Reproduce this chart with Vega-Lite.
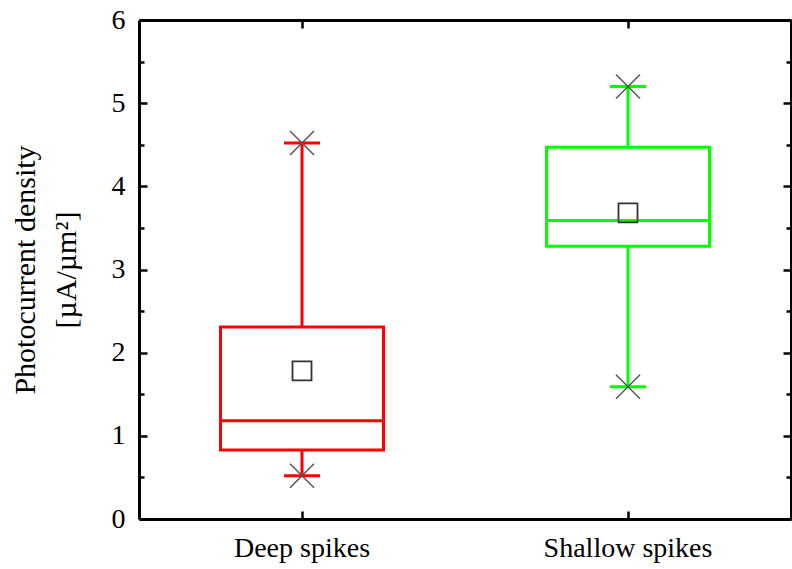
{
  "$schema": "https://vega.github.io/schema/vega-lite/v6.json",
  "width": 652,
  "height": 499,
  "autosize": {"type": "none"},
  "padding": {"left": 139, "top": 20, "right": 1, "bottom": 50},
  "background": "white",
  "config": {
    "view": {"stroke": null},
    "font": "Liberation Serif",
    "axis": {
      "domainColor": "black",
      "domainWidth": 3,
      "tickColor": "black",
      "tickWidth": 2.5,
      "labelFont": "Liberation Serif",
      "labelFontSize": 28,
      "labelColor": "black",
      "titleFont": "Liberation Serif",
      "titleFontWeight": "normal",
      "titleColor": "black",
      "grid": false
    }
  },
  "data": {
    "values": [
      {"group": "Deep spikes", "min": 0.52, "q1": 0.83, "median": 1.18, "q3": 2.31, "max": 4.52, "mean": 1.78},
      {"group": "Shallow spikes", "min": 1.59, "q1": 3.28, "median": 3.59, "q3": 4.47, "max": 5.2, "mean": 3.68}
    ]
  },
  "resolve": {"axis": {"x": "independent", "y": "independent"}},
  "layer": [
    {
      "mark": {"type": "rule", "strokeWidth": 3},
      "encoding": {
        "x": {"field": "group", "type": "nominal", "axis": null,
              "scale": {"paddingInner": 0.5, "paddingOuter": 0.25}},
        "y": {"field": "min", "type": "quantitative", "axis": null, "scale": {"domain": [0, 6], "nice": false}},
        "y2": {"field": "max"},
        "color": {"field": "group", "type": "nominal", "legend": null,
                  "scale": {"domain": ["Deep spikes", "Shallow spikes"], "range": ["#ff0000", "#00ff00"]}}
      }
    },
    {
      "mark": {"type": "bar", "fill": "white", "strokeWidth": 3},
      "encoding": {
        "x": {"field": "group", "type": "nominal",
              "axis": {"orient": "bottom", "title": null, "labelAngle": 0, "tickSize": -8, "labelPadding": 23}},
        "y": {"field": "q1", "type": "quantitative",
              "axis": {"orient": "left",
                       "values": [0, 0.5, 1, 1.5, 2, 2.5, 3, 3.5, 4, 4.5, 5, 5.5, 6],
                       "format": ".0f",
                       "labelExpr": "datum.value % 1 === 0 ? datum.label : ''",
                       "tickSize": {"condition": {"test": "datum.value % 1 === 0", "value": -8}, "value": -5},
                       "labelPadding": 22,
                       "title": ["Photocurrent density", "[µA/µm²]"],
                       "titleFontSize": 30,
                       "titlePadding": 30,
                       "titleLineHeight": 41}},
        "y2": {"field": "q3"},
        "stroke": {"field": "group", "type": "nominal", "legend": null,
                   "scale": {"domain": ["Deep spikes", "Shallow spikes"], "range": ["#ff0000", "#00ff00"]}}
      }
    },
    {
      "mark": {"type": "tick", "thickness": 3, "size": 164, "opacity": 1},
      "encoding": {
        "x": {"field": "group", "type": "nominal",
              "axis": {"orient": "top", "title": null, "labels": false, "tickSize": -8}},
        "y": {"field": "median", "type": "quantitative",
              "axis": {"orient": "right", "title": null, "labels": false,
                       "values": [0, 0.5, 1, 1.5, 2, 2.5, 3, 3.5, 4, 4.5, 5, 5.5, 6],
                       "tickSize": {"condition": {"test": "datum.value % 1 === 0", "value": -8}, "value": -5}}},
        "color": {"field": "group", "type": "nominal", "legend": null}
      }
    },
    {
      "transform": [{"fold": ["min", "max"], "as": ["stat", "value"]}],
      "mark": {"type": "tick", "thickness": 3, "size": 36, "opacity": 1},
      "encoding": {
        "x": {"field": "group", "type": "nominal", "axis": null},
        "y": {"field": "value", "type": "quantitative", "axis": null},
        "color": {"field": "group", "type": "nominal", "legend": null}
      }
    },
    {
      "transform": [{"fold": ["min", "max"], "as": ["stat", "value"]}],
      "mark": {"type": "point", "shape": "M-1,-1L1,1M-1,1L1,-1", "filled": false, "size": 576, "stroke": "#555555", "strokeWidth": 1.5, "opacity": 1},
      "encoding": {
        "x": {"field": "group", "type": "nominal", "axis": null},
        "y": {"field": "value", "type": "quantitative", "axis": null}
      }
    },
    {
      "mark": {"type": "point", "shape": "square", "filled": false, "size": 361, "stroke": "#333333", "strokeWidth": 1.8, "opacity": 1},
      "encoding": {
        "x": {"field": "group", "type": "nominal", "axis": null},
        "y": {"field": "mean", "type": "quantitative", "axis": null}
      }
    }
  ]
}
